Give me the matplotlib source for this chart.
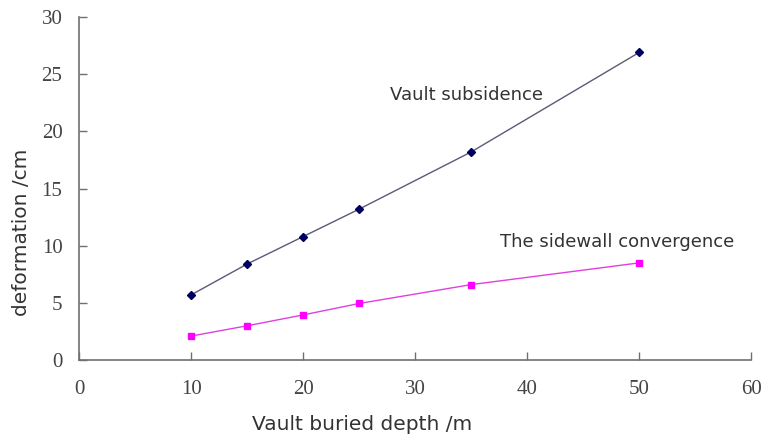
import numpy as np
import matplotlib
matplotlib.use('Agg')
import matplotlib.pyplot as plt

# data
depth = [10, 15, 20, 25, 35, 50]
vault_subsidence = [5.7, 8.4, 10.8, 13.2, 18.2, 26.9]
sidewall_convergence = [2.1, 3.0, 3.95, 4.95, 6.6, 8.5]

xticks = [0, 10, 20, 30, 40, 50, 60]
yticks = [0, 5, 10, 15, 20, 25, 30]

fig = plt.figure(figsize=(7.68, 4.37), dpi=100)
ax = fig.add_axes([0.103, 0.176, 0.875, 0.785])

ax.plot(depth, vault_subsidence, color='#5a5a78', lw=1.0,
        marker='D', ms=4.5, mfc='#000060', mec='#000060')
ax.plot(depth, sidewall_convergence, color='#e040e0', lw=1.0,
        marker='s', ms=5, mfc='#ff00ff', mec='#ff00ff')

ax.text(27.8, 23.2, 'Vault subsidence', fontsize=13, color='#333333', va='center')
ax.text(37.6, 10.3, 'The sidewall convergence', fontsize=13, color='#333333', va='center')

ax.set_xlim(0, 60)
ax.set_ylim(0, 30)
ax.set_xticks(xticks)
ax.set_yticks(yticks)
for lab in ax.get_xticklabels() + ax.get_yticklabels():
    lab.set_family('Liberation Serif')
    lab.set_fontsize(15)
    lab.set_color('#444444')

ax.tick_params(direction='in', length=6, width=1, color='#707070', pad=12)
ax.tick_params(axis='x', pad=14)
for s in ['top', 'right']:
    ax.spines[s].set_visible(False)
for s in ['left', 'bottom']:
    ax.spines[s].set_color('#707070')
    ax.spines[s].set_linewidth(1.2)

# axis titles sit off-centre in the reference, so place them on the figure
fig.text(362 / 768, 1 - 424 / 437, 'Vault buried depth /m', fontsize=14.5,
         color='#333333', ha='center', va='center')
fig.text(22 / 768, 1 - 232 / 437, 'deformation /cm', fontsize=14.5,
         color='#333333', ha='center', va='center', rotation=90)

fig.savefig('out.png', dpi=100)
